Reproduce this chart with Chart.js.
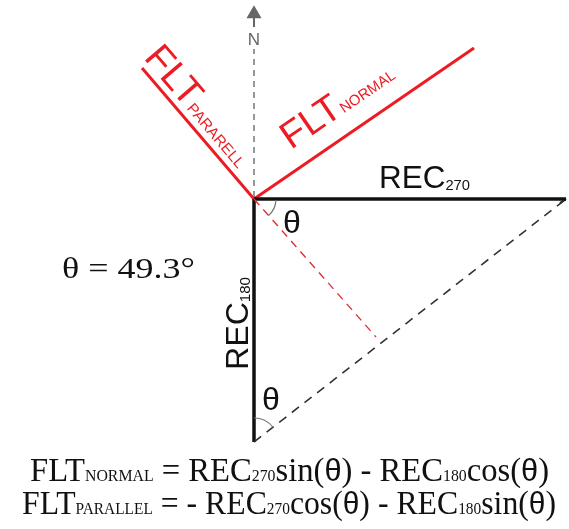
<!DOCTYPE html>
<html>
<head>
<meta charset="utf-8">
<script src="https://cdn.jsdelivr.net/npm/chart.js@4"></script>
<style>
  html, body { margin: 0; padding: 0; background: #fff; }
  #wrap { width: 569px; height: 529px; }
</style>
</head>
<body>
<div id="wrap"><canvas id="diagram"></canvas></div>
<script>
// receiver / fault vectors, origin at the receiver, x = east, y = north
var rec270 = [{x: 0, y: 0}, {x: 312, y: 0}];
var rec270Tip = [{x: 312, y: 0}, {x: 306, y: -4}];
var rec180 = [{x: 0, y: 0}, {x: 0, y: -243}];
var hypotenuse = [{x: 0, y: -243}, {x: 312, y: 0}];
var fltNormal = [{x: 0, y: 0}, {x: 220, y: 151}];
var fltParallel = [{x: 0, y: 0}, {x: -112, y: 131}];
var projection = [{x: 0, y: 0}, {x: 122, y: -138}];
var northDashed = [{x: 0, y: 2}, {x: 0, y: 150}];
var northStem = [{x: 0, y: 172}, {x: 0, y: 183}];
var northHead = [{x: 0, y: 185}];

var thetaDeg = 49.3;
var recLabel = 'REC';
var fltLabel = 'FLT';
var subNames = ['270', '180', 'NORMAL', 'PARARELL', 'PARALLEL'];
var northLabel = 'N';

var RED = '#ec1c24';
var SANS = 'Liberation Sans, Arial, sans-serif';
var SERIF = 'Liberation Serif, Times New Roman, serif';

function lineSet(data, color, width, dash) {
  return {
    data: data,
    showLine: true,
    borderColor: color,
    borderWidth: width,
    borderDash: dash || [],
    pointRadius: 0,
    borderCapStyle: 'butt',
    fill: false
  };
}

// draws text made of runs (different fonts), stretched to a given width
function drawRuns(ctx, runs, px, py, angle, width, color) {
  ctx.save();
  ctx.translate(px, py);
  ctx.rotate(angle);
  var natural = 0;
  runs.forEach(function (r) {
    ctx.font = r.font;
    natural += ctx.measureText(r.text).width;
  });
  ctx.scale(width / natural, 1);
  ctx.fillStyle = color;
  ctx.textBaseline = 'alphabetic';
  ctx.textAlign = 'left';
  var cx = 0;
  runs.forEach(function (r) {
    ctx.font = r.font;
    ctx.fillText(r.text, cx, r.dy || 0);
    cx += ctx.measureText(r.text).width;
  });
  ctx.restore();
}

var labelsPlugin = {
  id: 'labels',
  afterDatasetsDraw: function (chart) {
    var ctx = chart.ctx;
    var xs = chart.scales.x;
    var ys = chart.scales.y;
    function px(v) { return xs.getPixelForValue(v); }
    function py(v) { return ys.getPixelForValue(v); }

    // angle arcs
    ctx.save();
    ctx.strokeStyle = '#777';
    ctx.lineWidth = 1.2;
    var a1 = Math.atan2(-projection[1].y, projection[1].x);
    ctx.beginPath();
    ctx.arc(px(0), py(0), 22, 0.05, a1);
    ctx.stroke();
    var a2 = Math.atan2(-(hypotenuse[1].y - hypotenuse[0].y), hypotenuse[1].x - hypotenuse[0].x);
    ctx.beginPath();
    ctx.arc(px(hypotenuse[0].x), py(hypotenuse[0].y), 24, -Math.PI / 2, a2);
    ctx.stroke();
    ctx.restore();

    var big = '32px ' + SANS;
    var small = '15px ' + SANS;

    // REC270
    drawRuns(ctx, [{text: recLabel, font: big}, {text: subNames[0], font: small, dy: 2}],
      px(125), py(11), 0, 91, '#111');
    // REC180 (vertical)
    drawRuns(ctx, [{text: recLabel, font: big}, {text: subNames[1], font: small, dy: 2}],
      px(-6), py(-171), -Math.PI / 2, 93, '#111');

    // FLT normal
    var angN = -Math.atan2(fltNormal[1].y, fltNormal[1].x);
    drawRuns(ctx, [{text: fltLabel, font: '38px ' + SANS}, {text: subNames[2], font: small}],
      px(37), py(49), angN, 128, RED);
    // FLT parallel
    var angP = Math.atan2(fltParallel[1].y, -fltParallel[1].x);
    drawRuns(ctx, [{text: fltLabel, font: '38px ' + SANS}, {text: subNames[3], font: small}],
      px(-111), py(141), angP, 146, RED);

    // theta marks
    ctx.save();
    ctx.fillStyle = '#111';
    ctx.font = '32px ' + SANS;
    ctx.fillText('\u03b8', px(29), py(-34));
    ctx.fillText('\u03b8', px(8), py(-211));
    ctx.restore();

    // north label
    ctx.save();
    ctx.fillStyle = '#666';
    ctx.font = '17px ' + SANS;
    ctx.textAlign = 'center';
    ctx.fillText(northLabel, px(0), py(154));
    ctx.restore();

    // theta value
    drawRuns(ctx, [{text: '\u03b8 = ' + thetaDeg.toFixed(1) + '\u00b0', font: '30px ' + SERIF}],
      px(-192), py(-79), 0, 133, '#111');

    // equations
    var eb = '33px ' + SERIF;
    var es = '16px ' + SERIF;
    var et = '31px ' + SANS;
    drawRuns(ctx, [
      {text: fltLabel, font: eb}, {text: subNames[2], font: es},
      {text: ' = ' + recLabel, font: eb}, {text: subNames[0], font: es},
      {text: 'sin(', font: eb}, {text: '\u03b8', font: et},
      {text: ') - ' + recLabel, font: eb}, {text: subNames[1], font: es},
      {text: 'cos(', font: eb}, {text: '\u03b8', font: et}, {text: ')', font: eb}
    ], 30, 481, 0, 519, '#111');
    drawRuns(ctx, [
      {text: fltLabel, font: eb}, {text: subNames[4], font: es},
      {text: ' = - ' + recLabel, font: eb}, {text: subNames[0], font: es},
      {text: 'cos(', font: eb}, {text: '\u03b8', font: et},
      {text: ') - ' + recLabel, font: eb}, {text: subNames[1], font: es},
      {text: 'sin(', font: eb}, {text: '\u03b8', font: et}, {text: ')', font: eb}
    ], 22, 514, 0, 534, '#111');
  }
};

new Chart(document.getElementById('diagram'), {
  type: 'scatter',
  data: {
    datasets: [
      lineSet(northDashed, '#777', 1.5, [6, 5]),
      lineSet(northStem, '#666', 2),
      {
        data: northHead,
        pointStyle: 'triangle',
        pointRadius: 8.7,
        backgroundColor: '#666',
        borderColor: '#666',
        borderWidth: 0
      },
      lineSet(hypotenuse, '#333', 1.6, [9, 7]),
      lineSet(projection, '#e0303a', 1.4, [8, 6]),
      lineSet(rec270, '#111', 3.5),
      lineSet(rec270Tip, '#111', 2),
      lineSet(rec180, '#111', 3.5),
      lineSet(fltNormal, RED, 3),
      lineSet(fltParallel, RED, 3)
    ]
  },
  options: {
    responsive: true,
    maintainAspectRatio: false,
    animation: false,
    layout: { padding: 0, autoPadding: false },
    plugins: { legend: { display: false }, tooltip: { enabled: false } },
    scales: {
      x: { type: 'linear', min: -254, max: 315, display: false },
      y: { type: 'linear', min: -330, max: 199, display: false }
    }
  },
  plugins: [labelsPlugin]
});
</script>
</body>
</html>
